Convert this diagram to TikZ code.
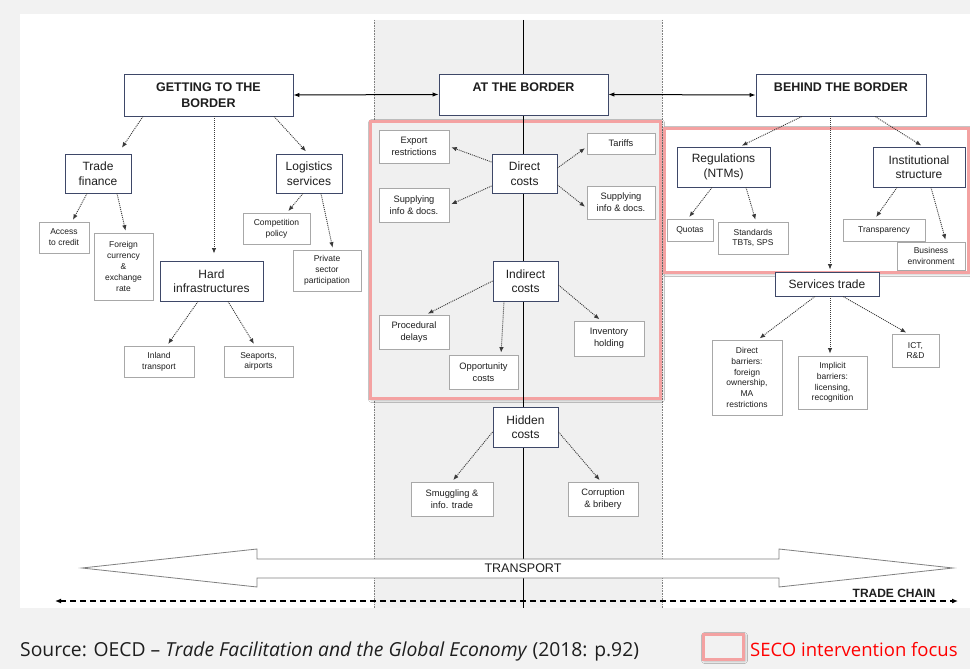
\documentclass[tikz,border=0pt]{standalone}
\usepackage{fontspec}
\setmainfont{Liberation Sans}
\newfontfamily\capfont{Open Sans}
\usetikzlibrary{arrows.meta,shadows.blur}
\definecolor{bg}{HTML}{F2F2F2}
\definecolor{band}{HTML}{F0F0F0}
\definecolor{boxblue}{HTML}{3E4868}
\definecolor{boxgray}{HTML}{A8A8A8}
\definecolor{arrgray}{HTML}{3A3A3A}
\definecolor{seco}{HTML}{F4A2A2}
\definecolor{txt}{HTML}{1E1E1E}
\tikzset{
  mainbox/.style={draw=boxblue, fill=white, line width=0.9pt, align=center, inner sep=1pt, text=txt, font=\fontsize{12}{14.5}\selectfont},
  headbox/.style={mainbox, font=\bfseries\fontsize{12.5}{15.5}\selectfont},
  smallbox/.style={draw=boxgray, fill=white, line width=0.8pt, align=center, inner sep=1pt, text=txt, font=\fontsize{9.3}{12}\selectfont},
  tinybox/.style={smallbox, font=\fontsize{8.5}{10.8}\selectfont},
  dar/.style={dash pattern=on 1pt off 1pt, -{Latex[length=5.5pt,width=4.5pt]}, line width=0.9pt, draw=arrgray, shorten >=2pt},
  secobox/.style={draw=seco, line width=3pt, blur shadow={shadow xshift=1.5pt, shadow yshift=-1.5pt, shadow blur radius=3pt, shadow opacity=40}},
  hdarrow/.style={{Latex[length=6pt,width=4.5pt]}-{Latex[length=6pt,width=4.5pt]}, line width=1pt},
}
\begin{document}
\begin{tikzpicture}[x=1pt,y=-1pt]
\useasboundingbox (0,0) rectangle (970,669);
\fill[bg] (0,0) rectangle (970,669);
\fill[white] (20,14) rectangle (970,608);
% central band
\fill[band] (374,20) rectangle (662,608);
\draw[densely dotted, gray, line width=0.6pt] (374,20) -- (374,608);
\draw[densely dotted, gray, line width=0.6pt] (662,20) -- (662,608);
% SECO focus boxes
\draw[secobox, fill=band] (370,121) rectangle (660,398);
\draw[secobox, fill=white] (664,128) rectangle (968,272);
% central vertical line
\coordinate (vtop) at (523,20);
\coordinate (vbot) at (523,608);
\draw[line width=1pt] (vtop) -- (vbot);

% header boxes
\node[headbox, minimum width=169pt, minimum height=42pt] (getting) at (208.5,95) {GETTING TO THE\\BORDER};
\node[headbox, minimum width=169pt, minimum height=41pt] (atb) at (523.5,94.5) {AT THE BORDER\\ \mbox{}};
\node[headbox, minimum width=170pt, minimum height=42pt] (behind) at (841,95) {BEHIND THE BORDER\\ \mbox{}};
\draw[hdarrow] (getting.east) -- (atb.west);
\draw[hdarrow] (atb.east) -- (behind.west);

% left
\node[mainbox, minimum width=66pt, minimum height=39pt] (tradefin) at (98,173.5) {Trade\\finance};
\node[mainbox, minimum width=66pt, minimum height=39pt] (logistics) at (309,173.5) {Logistics\\services};
\node[tinybox, minimum width=50pt, minimum height=31pt] (access) at (64,237.5) {Access\\to credit};
\node[tinybox, minimum width=59pt, minimum height=67pt] (foreign) at (123.5,266.5) {Foreign\\currency\\\&\\exchange\\rate};
\node[mainbox, minimum width=103pt, minimum height=40pt] (hard) at (211.5,281) {Hard\\infrastructures};
\node[tinybox, minimum width=67pt, minimum height=31pt] (competition) at (276.5,228.5) {Competition\\policy};
\node[tinybox, minimum width=68pt, minimum height=41pt] (private) at (327,270.5) {Private\\sector\\participation};
\node[tinybox, minimum width=70pt, minimum height=31pt] (inland) at (159,361.5) {Inland\\transport};
\node[tinybox, minimum width=69pt, minimum height=31pt] (seaports) at (258.5,361.5) {Seaports,\\airports};

\draw[dar, shorten >=7pt] ([xshift=-65.5pt]getting.south) -- ([xshift=20pt]tradefin.north);
\draw[dar, shorten >=7pt] ([xshift=5.5pt]getting.south) -- ([xshift=2.5pt]hard.north);
\draw[dar, shorten >=3pt] ([xshift=65.5pt]getting.south) -- ([xshift=-1pt]logistics.north);
\draw[dar] ([xshift=-11pt]tradefin.south) -- ([xshift=8pt]access.north);
\draw[dar] ([xshift=19pt]tradefin.south) -- ([xshift=2.5pt]foreign.north);
\draw[dar] ([xshift=-6pt]logistics.south) -- ([xshift=10.5pt]competition.north);
\draw[dar] ([xshift=12pt]logistics.south) -- ([xshift=6pt]private.north);
\draw[dar] ([xshift=-13.5pt]hard.south) -- ([xshift=8pt]inland.north);
\draw[dar] ([xshift=16.5pt]hard.south) -- ([xshift=-3.5pt]seaports.north);

% middle
\node[mainbox, minimum width=65pt, minimum height=39pt] (direct) at (524.5,173.5) {Direct\\costs};
\node[smallbox, minimum width=70pt, minimum height=33pt] (export) at (414,146.5) {Export\\restrictions};
\node[smallbox, minimum width=70pt, minimum height=34pt] (supL) at (414,205) {Supplying\\info \& docs.};
\node[smallbox, minimum width=68pt, minimum height=21pt] (tariffs) at (621,143.5) {Tariffs};
\node[smallbox, minimum width=68pt, minimum height=33pt] (supR) at (621,202.5) {Supplying\\info \& docs.};
\node[mainbox, minimum width=65pt, minimum height=40pt] (indirect) at (525.5,281) {Indirect\\costs};
\node[smallbox, minimum width=70pt, minimum height=34pt] (procedural) at (414,332) {Procedural\\delays};
\node[smallbox, minimum width=69pt, minimum height=34pt] (opportunity) at (483.5,372) {Opportunity\\costs};
\node[smallbox, minimum width=70pt, minimum height=35pt] (inventory) at (609,338.5) {Inventory\\holding};
\node[mainbox, minimum width=65pt, minimum height=40pt] (hidden) at (525.5,427) {Hidden\\costs};
\node[smallbox, minimum width=82pt, minimum height=34pt] (smuggling) at (452,499) {Smuggling \&\\info. trade};
\node[smallbox, minimum width=70pt, minimum height=34pt] (corruption) at (603,499) {Corruption\\\& bribery};

\draw[dar] ([yshift=11.5pt]direct.west) -- (export.east);
\draw[dar] ([yshift=-12.5pt]direct.west) -- (supL.east);
\draw[dar] ([yshift=5.5pt]direct.east) -- ([yshift=-3.5pt]tariffs.west);
\draw[dar] ([yshift=-11.5pt]direct.east) -- ([yshift=-5.5pt]supR.west);
\draw[dar] (indirect.west) -- ([xshift=12pt]procedural.north);
\draw[dar] ([xshift=-21.5pt]indirect.south) -- ([xshift=17.5pt]opportunity.north);
\draw[dar] ([yshift=-4pt]indirect.east) -- ([xshift=-8pt]inventory.north);
\draw[dar] ([yshift=-5pt]hidden.west) -- (smuggling.north);
\draw[dar] ([yshift=-5pt]hidden.east) -- ([xshift=-2pt]corruption.north);

% right
\node[mainbox, minimum width=93pt, minimum height=40pt] (regulations) at (723.5,167) {Regulations\\(NTMs)};
\node[mainbox, minimum width=92pt, minimum height=40pt] (institutional) at (919,167) {Institutional\\structure};
\node[tinybox, minimum width=46pt, minimum height=22pt] (quotas) at (690,230) {Quotas};
\node[tinybox, minimum width=70pt, minimum height=32pt] (standards) at (753,238) {Standards\\TBTs, SPS};
\node[tinybox, minimum width=82pt, minimum height=22pt] (transparency) at (884,230) {Transparency};
\node[tinybox, minimum width=68pt, minimum height=28pt] (business) at (931,256) {Business\\environment};
\node[mainbox, minimum width=104pt, minimum height=24pt] (services) at (827,284) {Services trade};
\node[tinybox, minimum width=70pt, minimum height=75pt] (dbarriers) at (747,377.5) {Direct\\barriers:\\foreign\\ownership,\\MA\\restrictions};
\node[tinybox, minimum width=69pt, minimum height=53pt] (implicit) at (832.5,382.5) {Implicit\\barriers:\\licensing,\\recognition};
\node[tinybox, minimum width=47pt, minimum height=33pt] (ict) at (915.5,350.5) {ICT,\\R\&D};

\draw[dar] ([xshift=-39pt]behind.south) -- ([xshift=16.5pt]regulations.north);
\draw[dar] ([xshift=-11pt]behind.south) -- ([xshift=3pt]services.north);
\draw[dar] ([xshift=34pt]behind.south) -- ([xshift=4pt]institutional.north);
\draw[dar] ([xshift=-11.5pt]regulations.south) -- ([xshift=-2pt]quotas.north);
\draw[dar] ([xshift=22.5pt]regulations.south) -- ([xshift=3pt]standards.north);
\draw[dar] ([xshift=-22pt]institutional.south) -- ([xshift=-9pt]transparency.north);
\draw[dar] ([xshift=12pt]institutional.south) -- ([xshift=15pt]business.north);
\draw[dar] ([xshift=-12pt]services.south) -- ([xshift=11pt]dbarriers.north);
\draw[dar] ([xshift=3pt]services.south) -- ([xshift=-2.5pt]implicit.north);
\draw[dar] ([xshift=16pt]services.south) -- ([xshift=-7.5pt]ict.north);

% transport arrow
\draw[fill=white, draw=gray, line width=0.8pt] (82,568) -- (257,549) -- (257,559) -- (779,559) -- (779,549) -- (953,568) -- (779,587) -- (779,578) -- (257,578) -- (257,587) -- cycle;
\node[font=\fontsize{12.5}{14}\selectfont, text=txt] (transport) at (523,568.5) {TRANSPORT};

% trade chain
\coordinate (tcl) at (55,601);
\coordinate (tcr) at (958,601);
\draw[dash pattern=on 6pt off 4pt, line width=1.4pt, {Latex[length=6pt,width=5pt]}-{Latex[length=6pt,width=5pt]}] (tcl) -- (tcr);
\node[font=\bfseries\fontsize{12}{14}\selectfont, text=txt, anchor=base] (tradechain) at (894,597) {TRADE CHAIN};

% caption and legend
\node[anchor=base west, inner sep=0pt, font=\capfont\fontsize{19.3}{21}\selectfont, text=txt] (src) at (20,656) {Source: OECD \textendash{} \textit{Trade Facilitation and the Global Economy} (2018: p.92)};
\draw[secobox, fill=bg] (703,634) rectangle (743,659);
\node[anchor=base west, inner sep=0pt, font=\capfont\fontsize{18.5}{20}\selectfont, text=red] (legtxt) at (750,656) {SECO intervention focus};
\end{tikzpicture}
\end{document}
